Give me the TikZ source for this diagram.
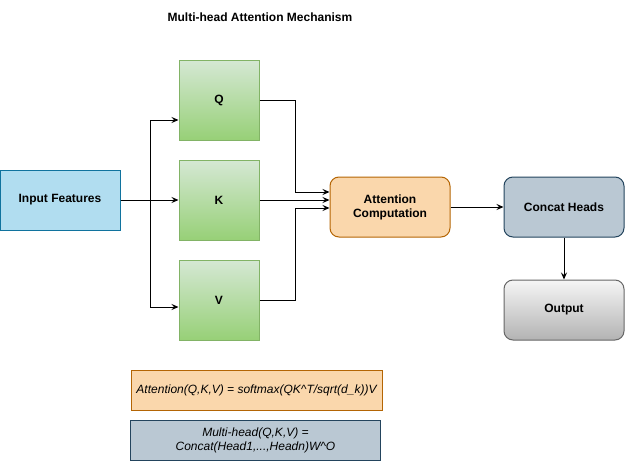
\documentclass[tikz,border=0pt]{standalone}
\usepackage{fontspec}
\setmainfont{Liberation Sans}
\usepackage{tikz}
\usetikzlibrary{arrows.meta,calc}

\definecolor{inpfill}{HTML}{B1DDF0}
\definecolor{inpline}{HTML}{10739E}
\definecolor{qkvtop}{HTML}{D5E8D4}
\definecolor{qkvbot}{HTML}{97D077}
\definecolor{qkvline}{HTML}{82B366}
\definecolor{attfill}{HTML}{FAD7AC}
\definecolor{attline}{HTML}{B46504}
\definecolor{catfill}{HTML}{BAC8D3}
\definecolor{catline}{HTML}{23445D}
\definecolor{outtop}{HTML}{F5F5F5}
\definecolor{outbot}{HTML}{B3B3B3}
\definecolor{outline}{HTML}{666666}

\begin{document}
\begin{tikzpicture}[x=1pt,y=-1pt,line width=1pt,
  font=\fontsize{12}{14}\selectfont\bfseries,
  box/.style={draw,inner sep=2pt,align=center,minimum width=120pt,minimum height=60pt},
  qkv/.style={draw=qkvline,top color=qkvtop,bottom color=qkvbot,inner sep=0pt,
    minimum width=80pt,minimum height=80pt},
  formula/.style={draw,inner sep=2pt,align=center,minimum width=250pt,minimum height=40pt,
    font=\fontsize{12}{14}\selectfont\itshape},
  arr/.style={-{Stealth[length=7pt,width=6pt,inset=2.5pt]}}]
  \useasboundingbox (0,0) rectangle (625,461);
  % title
  \node (title) at (260,17) {Multi-head Attention Mechanism};
  % blocks
  \node[box,fill=inpfill,draw=inpline] (inp) at (60,200) {Input Features};
  \node[qkv] (q) at (219,100) {Q};
  \node[qkv] (k) at (219,200) {K};
  \node[qkv] (v) at (219,300) {V};
  \node[box,rounded corners=9pt,fill=attfill,draw=attline] (att) at (390,207) {Attention\\Computation};
  \node[box,rounded corners=9pt,fill=catfill,draw=catline] (cat) at (564,207) {Concat Heads};
  \node[box,rounded corners=9pt,draw=outline,top color=outtop,bottom color=outbot] (out) at (564,310) {Output};
  % formulas
  \node[formula,fill=attfill,draw=attline,minimum width=251pt] (f1) at (256.5,390) {Attention(Q,K,V) = softmax(QK\^{}T/sqrt(d\_k))V};
  \node[formula,fill=catfill,draw=catline] (f2) at (255.5,440) {Multi-head(Q,K,V) =\\Concat(Head1,...,Headn)W\^{}O};
  % connections
  \draw[arr] (inp.east) -- (k.west);
  \draw[arr] (inp.east) -- ++(30,0) |- ($(q.west)+(0,20)$);
  \draw[arr] (inp.east) -- ++(30,0) |- ($(v.west)+(0,7)$);
  \draw[arr] (q.east) -- ++(36,0) |- ($(att.west)+(0,-15)$);
  \draw[arr] (k.east) -- (k.east -| att.west);
  \draw[arr] (v.east) -- ++(36,0) |- ($(att.west)+(0,1)$);
  \draw[arr] (att.east) -- (cat.west);
  \draw[arr] (cat.south) -- (out.north);
\end{tikzpicture}
\end{document}
